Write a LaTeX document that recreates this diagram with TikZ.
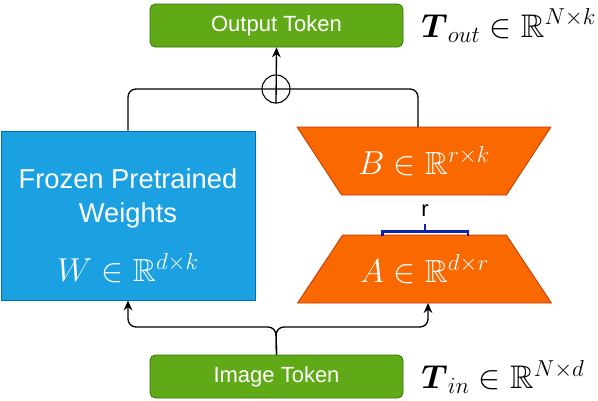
\documentclass[tikz,border=0pt]{standalone}
\usepackage{amsmath,amssymb}
\usepackage{fontspec}
\newfontfamily\labfont{Liberation Sans}
\usepackage{tikz}
\usetikzlibrary{arrows.meta,positioning,shapes.geometric,calc}
\definecolor{tokgreen}{HTML}{60A917}
\definecolor{tokedge}{HTML}{2D7600}
\definecolor{frzblue}{HTML}{1BA1E2}
\definecolor{frzedge}{HTML}{006EAF}
\definecolor{lora}{HTML}{FA6800}
\definecolor{loraedge}{HTML}{C73500}
\definecolor{brk}{HTML}{1020B0}

\begin{document}
\begin{tikzpicture}[x=0.75pt,y=-0.75pt,>={Stealth[length=7.5pt,width=6.5pt]},
  token/.style={draw=tokedge,fill=tokgreen,rounded corners=4pt,line width=0.6pt,
    minimum width=189.75pt,minimum height=32.25pt,text=white,
    font=\labfont\fontsize{16.5}{18}\selectfont},
  lorapart/.style={trapezium,trapezium angle=39.5,trapezium stretches=true,
    draw=loraedge,fill=lora,line width=0.6pt,minimum width=190.5pt,minimum height=51pt,
    inner sep=0pt,outer sep=0pt,text=white,font=\fontsize{24}{26}\selectfont},
  tlabel/.style={font=\fontsize{24.5}{26}\selectfont},
  conn/.style={line width=1pt,rounded corners=6pt}]
\useasboundingbox (0,0) rectangle (598,400);
% ---------- tokens ----------
\node[token] (out) at (276.5,25.5) {Output Token};
\node[token] (in) at (276.5,376.5) {Image Token};
\node[tlabel,anchor=west,right=10pt of out] (tout) {$\boldsymbol{T}_{out}\in\mathbb{R}^{N\times k}$};
\node[tlabel,anchor=west,right=10pt of in] (tin) {$\boldsymbol{T}_{in}\in\mathbb{R}^{N\times d}$};
% ---------- frozen branch ----------
\node[draw=frzedge,fill=frzblue,line width=0.6pt,minimum width=190.5pt,minimum height=126.75pt] (frozen) at (128,215.5) {};
\node[text=white,align=center,font=\labfont\fontsize{20.5}{25.5}\selectfont] (frztext) at (128,198) {Frozen Pretrained\\Weights};
\node[text=white,font=\fontsize{24}{26}\selectfont] (wmath) at (128,268) {$W\in\mathbb{R}^{d\times k}$};
% ---------- low-rank branch ----------
\node[lorapart,shape border rotate=180] (B) at (424,161) {$B\in\mathbb{R}^{r\times k}$};
\node[lorapart] (A) at (424.5,269) {$A\in\mathbb{R}^{d\times r}$};
\draw[brk,line width=1.6pt] (382.5,236) -- (382.5,231.5) -- (468,231.5) -- (468,236);
\draw[brk,line width=1.6pt] (425,231.5) -- (425,224);
\node[font=\labfont\fontsize{16.5}{18}\selectfont] (rlab) at (425,211) {r};
% ---------- connectors ----------
\node[draw,circle,minimum size=21pt,inner sep=0pt,line width=0.8pt] (sum) at (276,89) {};
\coordinate (Btop) at (418,127);
\coordinate (split) at (276,327);
\coordinate (Ain) at ($(A.south)+(3.5,0)$);
\draw[conn] (frozen.north) |- (sum.center) -| (Btop);
\draw[conn,->] (sum.south) -- (out.south);
\draw[conn,->] (in.north) -- (split) -| (frozen.south);
\draw[conn,->] (in.north) -- (split) -| (Ain);
\end{tikzpicture}
\end{document}
